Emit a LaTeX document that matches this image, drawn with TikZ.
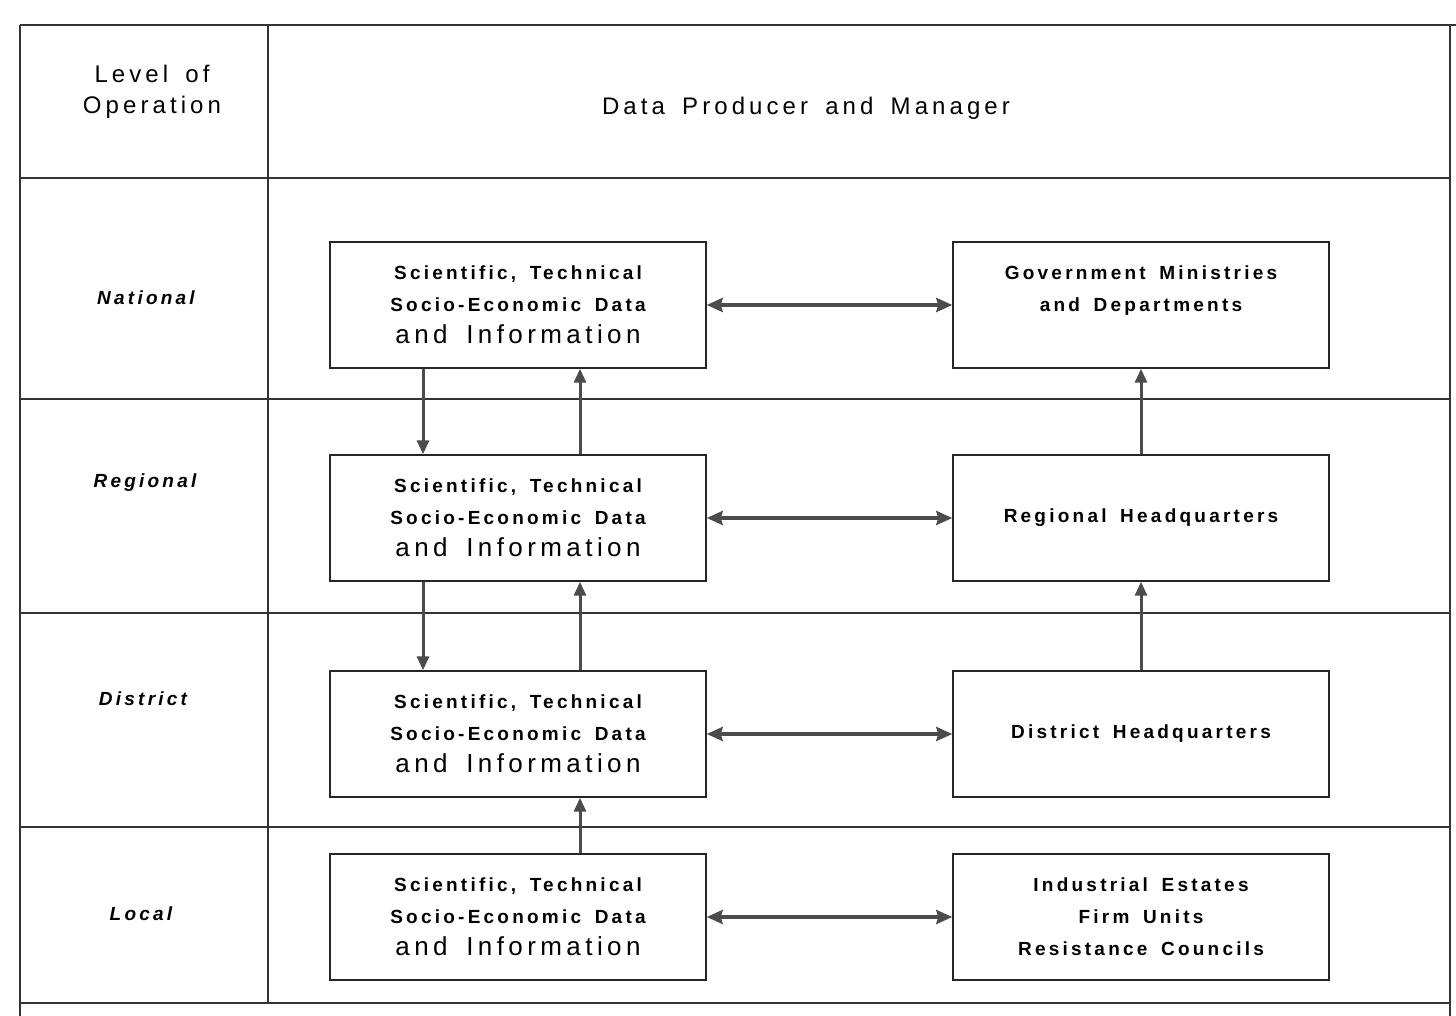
\documentclass[tikz,border=0pt]{standalone}
\usepackage{fontspec}
\setmainfont{Liberation Sans}
\newfontfamily\spacedfont[LetterSpace=17,WordSpace=1.6]{Liberation Sans}
\usetikzlibrary{arrows.meta}

\begin{document}
\begin{tikzpicture}[x=0.5pt,y=-0.5pt,
  rule/.style={line width=0.8pt,black!80},
  box/.style={draw,line width=0.7pt,black!85,text=black,minimum width=188pt,minimum height=63pt,inner sep=0pt,align=center,font=\spacedfont\bfseries\fontsize{9.5}{16}\selectfont},
  level/.style={font=\spacedfont\bfseries\itshape\fontsize{9.5}{12}\selectfont},
  head/.style={align=center,font=\spacedfont\fontsize{12}{15.5}\selectfont},
  flow/.style={line width=1.5pt,black!70,-{Triangle[length=7pt,width=6pt]}},
  both/.style={line width=2pt,black!70,{Stealth[length=8pt,width=7pt,inset=1pt]}-{Stealth[length=8pt,width=7pt,inset=1pt]}}]
\useasboundingbox (0,0) rectangle (1456,1016);

% table
\draw[rule] (20,25) -- (1456,25);
\draw[rule] (20,25) -- (20,1016);
\draw[rule] (1450,25) -- (1450,1016);
\draw[rule] (268,25) -- (268,1003);
\foreach \y in {178,399,613,827,1003}
  \draw[rule] (20,\y) -- (1450,\y);

% headings
\node[head] (lvl) at (152,92) {Level of\\Operation};
\node[head] (dpm) at (806,108) {Data Producer and Manager};

\node[level] (nat) at (146,298) {National};
\node[level] (reg) at (145,483) {Regional};
\node[level] (dis) at (143,699) {District};
\node[level] (loc) at (141,914) {Local};

% data boxes
\node[box] (natl) at (518,305) {Scientific, Technical\\Socio-Economic Data\\{\mdseries\fontsize{13}{16}\selectfont and Information}};
\node[box] (regl) at (518,518) {Scientific, Technical\\Socio-Economic Data\\{\mdseries\fontsize{13}{16}\selectfont and Information}};
\node[box] (disl) at (518,734) {Scientific, Technical\\Socio-Economic Data\\{\mdseries\fontsize{13}{16}\selectfont and Information}};
\node[box] (locl) at (518,917) {Scientific, Technical\\Socio-Economic Data\\{\mdseries\fontsize{13}{16}\selectfont and Information}};

\node[box] (natr) at (1141,305) {Government Ministries\\and Departments\\\mbox{}};
\node[box] (regr) at (1141,518) {Regional Headquarters};
\node[box] (disr) at (1141,734) {District Headquarters};
\node[box] (locr) at (1141,917) {Industrial Estates\\Firm Units\\Resistance Councils};

% flows
\draw[both] (natl) -- (natr);
\draw[both] (regl) -- (regr);
\draw[both] (disl) -- (disr);
\draw[both] (locl) -- (locr);

\draw[flow] ([xshift=-47.5pt]natl.south) -- ([xshift=-47.5pt]regl.north);
\draw[flow] ([xshift=31pt]regl.north) -- ([xshift=31pt]natl.south);
\draw[flow] ([xshift=-47.5pt]regl.south) -- ([xshift=-47.5pt]disl.north);
\draw[flow] ([xshift=31pt]disl.north) -- ([xshift=31pt]regl.south);
\draw[flow] ([xshift=31pt]locl.north) -- ([xshift=31pt]disl.south);

\draw[flow] (regr) -- (natr);
\draw[flow] (disr) -- (regr);
\end{tikzpicture}
\end{document}
